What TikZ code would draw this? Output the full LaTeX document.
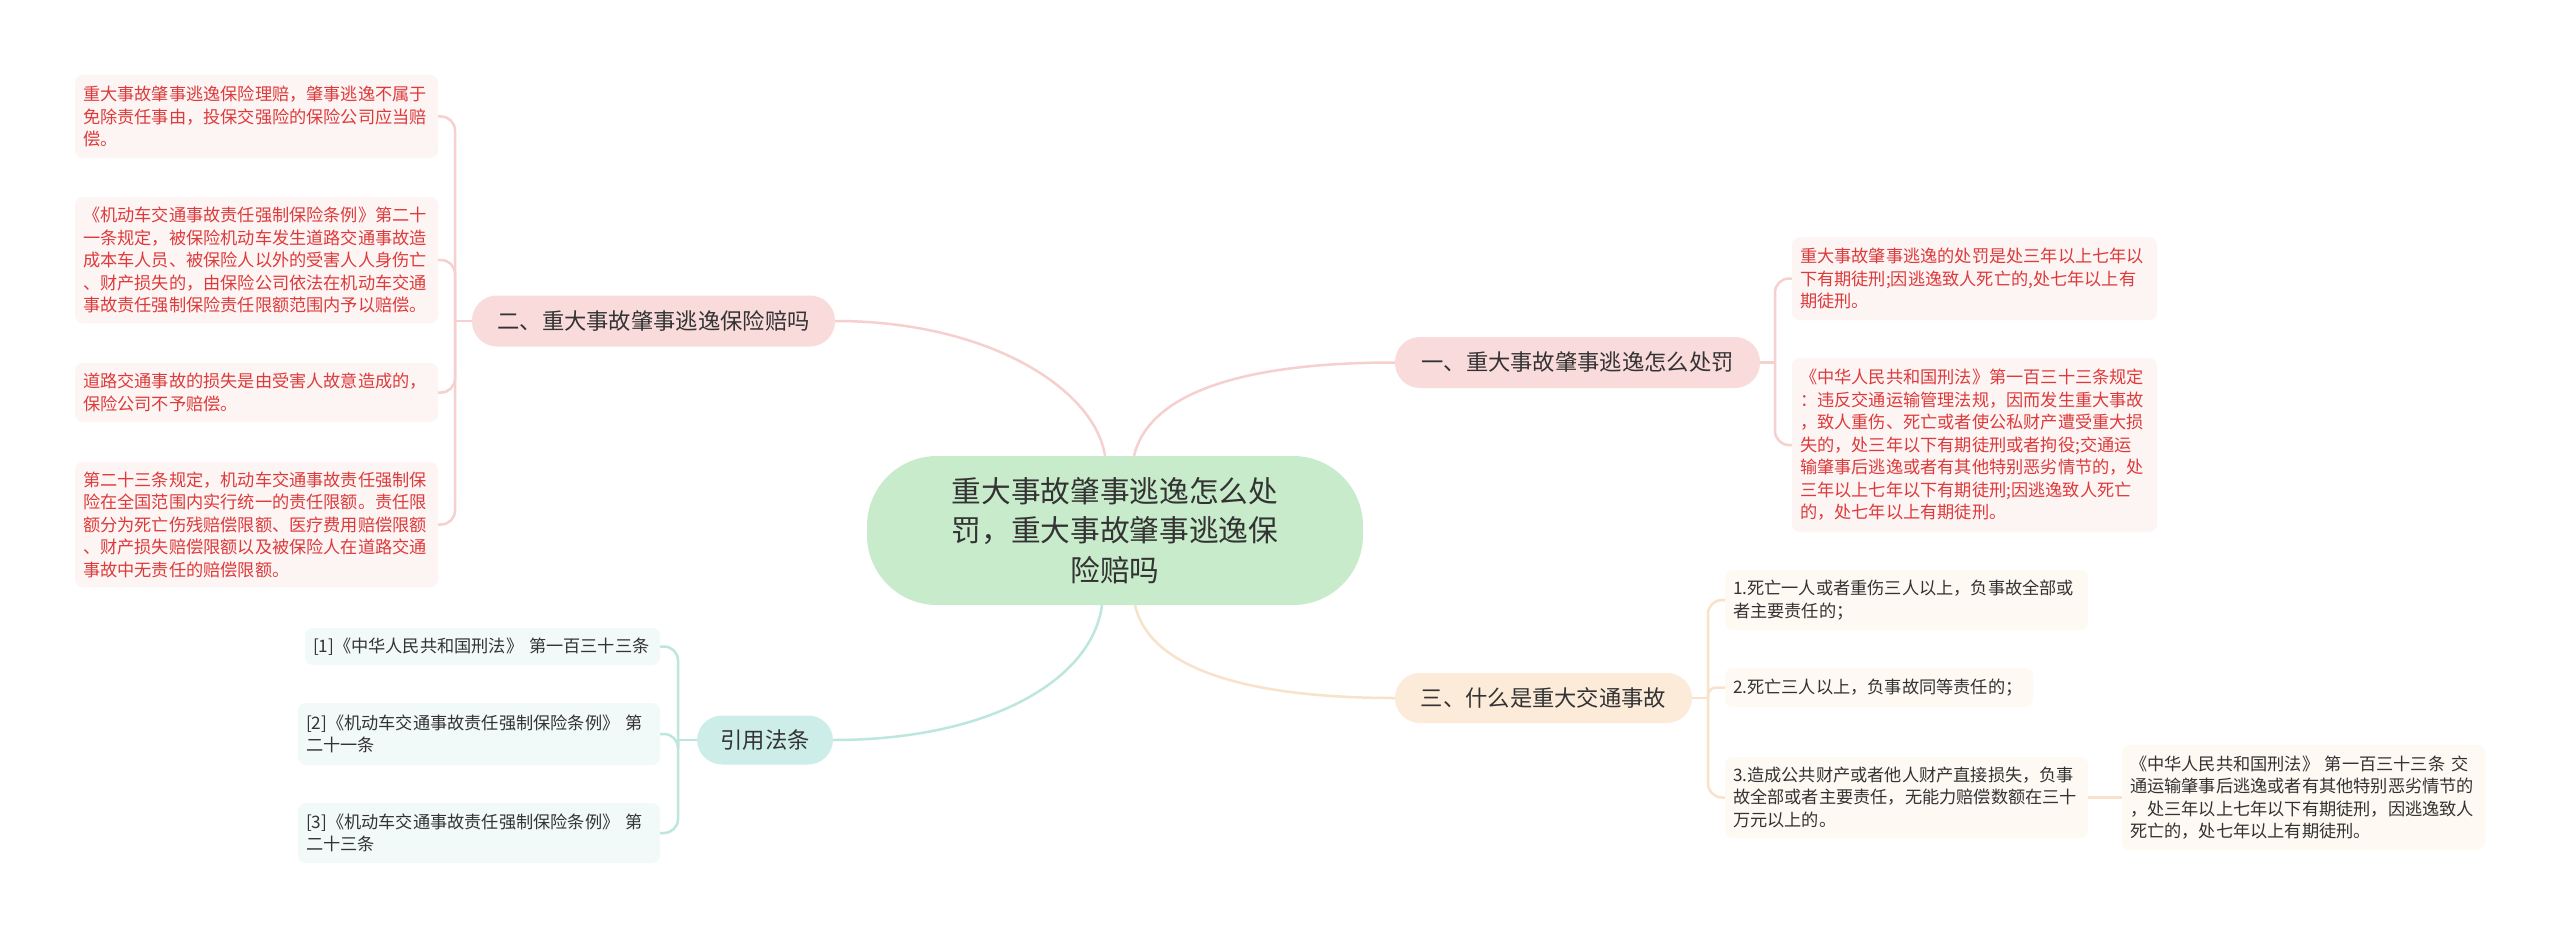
\documentclass[tikz,border=0pt]{standalone}
\usepackage{fontspec}
\setmainfont{Noto Sans CJK SC}
\usetikzlibrary{backgrounds,calc}
\definecolor{cgreen}{HTML}{C8EBCB}
\definecolor{npink}{HTML}{FADBDB}
\definecolor{npeach}{HTML}{FDEBDA}
\definecolor{nmint}{HTML}{CDEEE8}
\definecolor{lpink}{HTML}{FDF4F4}
\definecolor{lpeach}{HTML}{FEF9F3}
\definecolor{lmint}{HTML}{F2FAF9}
\definecolor{redtxt}{HTML}{DD3B3B}
\definecolor{darktxt}{HTML}{333333}
\definecolor{pinkln}{HTML}{F6CFCF}
\definecolor{peachln}{HTML}{F9E2CA}
\definecolor{mintln}{HTML}{BDE6DE}
\tikzset{
  leaf/.style={rounded corners=8pt, inner xsep=8pt, inner ysep=0pt, align=left,
    font=\fontsize{17.2}{22.5}\selectfont, anchor=center},
  redleaf/.style={leaf, fill=lpink, text=redtxt},
  peachleaf/.style={leaf, fill=lpeach, text=darktxt},
  mintleaf/.style={leaf, fill=lmint, text=darktxt},
  branch/.style={rounded corners=25pt, minimum height=51pt, inner sep=0pt,
    font=\fontsize{22.3}{26}\selectfont, text=darktxt, anchor=center},
  pinkline/.style={draw=pinkln, line width=2.5pt},
  peachline/.style={draw=peachln, line width=2.5pt},
  mintline/.style={draw=mintln, line width=2.5pt},
}
\begin{document}
\begin{tikzpicture}[x=1pt,y=-1pt]
\useasboundingbox (0,0) rectangle (2560,939);

% central
\node[fill=cgreen, rounded corners=70pt, minimum width=496pt, minimum height=149pt,
  inner sep=0pt, text width=340pt, align=center, text=darktxt,
  font=\fontsize{29.7}{39.5}\selectfont] (c) at (1115,530.5)
  {重大事故肇事逃逸怎么处\\罚，重大事故肇事逃逸保\\险赔吗};

% branches
\node[branch, fill=npink, minimum width=365pt] (b1) at (1577.5,362.5) {一、重大事故肇事逃逸怎么处罚};
\node[branch, fill=npink, minimum width=363pt] (b2) at (653.5,321) {二、重大事故肇事逃逸保险赔吗};
\node[branch, fill=npeach, minimum width=297pt, minimum height=50pt] (b3) at (1543.5,698) {三、什么是重大交通事故};
\node[branch, fill=nmint, minimum width=136pt, minimum height=49pt] (b4) at (765,740) {引用法条};

% branch 1 leaves
\node[redleaf, text width=349pt, minimum height=83pt] (l1a) at (1974.5,278.5)
  {重大事故肇事逃逸的处罚是处三年以上七年以\\下有期徒刑;因逃逸致人死亡的,处七年以上有\\期徒刑。};
\node[redleaf, text width=349pt, minimum height=174pt] (l1b) at (1974.5,445)
  {《中华人民共和国刑法》第一百三十三条规定\\：违反交通运输管理法规，因而发生重大事故\\，致人重伤、死亡或者使公私财产遭受重大损\\失的，处三年以下有期徒刑或者拘役;交通运\\输肇事后逃逸或者有其他特别恶劣情节的，处\\三年以上七年以下有期徒刑;因逃逸致人死亡\\的，处七年以上有期徒刑。};

% branch 2 leaves
\node[redleaf, text width=347pt, minimum height=83pt] (l2a) at (256.5,116.5)
  {重大事故肇事逃逸保险理赔，肇事逃逸不属于\\免除责任事由，投保交强险的保险公司应当赔\\偿。};
\node[redleaf, text width=347pt, minimum height=126pt] (l2b) at (256.5,260)
  {《机动车交通事故责任强制保险条例》第二十\\一条规定，被保险机动车发生道路交通事故造\\成本车人员、被保险人以外的受害人人身伤亡\\、财产损失的，由保险公司依法在机动车交通\\事故责任强制保险责任限额范围内予以赔偿。};
\node[redleaf, text width=347pt, minimum height=59pt] (l2c) at (256.5,392.5)
  {道路交通事故的损失是由受害人故意造成的，\\保险公司不予赔偿。};
\node[redleaf, text width=347pt, minimum height=125pt] (l2d) at (256.5,524.5)
  {第二十三条规定，机动车交通事故责任强制保\\险在全国范围内实行统一的责任限额。责任限\\额分为死亡伤残赔偿限额、医疗费用赔偿限额\\、财产损失赔偿限额以及被保险人在道路交通\\事故中无责任的赔偿限额。};

% branch 3 leaves
\node[peachleaf, text width=347pt, minimum height=60pt] (l3a) at (1906.5,600)
  {1.死亡一人或者重伤三人以上，负事故全部或\\者主要责任的；};
\node[peachleaf, text width=292pt, minimum height=39pt] (l3b) at (1879,687.5)
  {2.死亡三人以上，负事故同等责任的；};
\node[peachleaf, text width=347pt, minimum height=81pt] (l3c) at (1906.5,797.5)
  {3.造成公共财产或者他人财产直接损失，负事\\故全部或者主要责任，无能力赔偿数额在三十\\万元以上的。};
\node[peachleaf, text width=347pt, minimum height=105pt] (l3d) at (2303.5,797.5)
  {《中华人民共和国刑法》~第一百三十三条~交\\通运输肇事后逃逸或者有其他特别恶劣情节的\\，处三年以上七年以下有期徒刑，因逃逸致人\\死亡的，处七年以上有期徒刑。};

% branch 4 leaves
\node[mintleaf, text width=339pt, minimum height=37pt] (l4a) at (482.5,646.5)
  {[1]《中华人民共和国刑法》~第一百三十三条};
\node[mintleaf, text width=346pt, minimum height=62pt] (l4b) at (479,734)
  {[2]《机动车交通事故责任强制保险条例》~第\\二十一条};
\node[mintleaf, text width=346pt, minimum height=60pt] (l4c) at (479,833)
  {[3]《机动车交通事故责任强制保险条例》~第\\二十三条};

% junctions
\coordinate (j1) at (1775,362.5);
\coordinate (j2) at (455,321);
\coordinate (j3) at (1708,698);
\coordinate (j4) at (678,740);

\begin{scope}[on background layer]
\fill[white] (0,0) rectangle (2560,939);
% main curves
\draw[pinkline] ([xshift=-10pt]c.north) .. controls (1095,390) and (990,321) .. (b2.east);
\draw[pinkline] ([xshift=19pt]c.north) .. controls (1150,390) and (1250,362.5) .. (b1.west);
\draw[peachline] ([xshift=20pt]c.south) .. controls (1150,670) and (1250,698) .. (b3.west);
\draw[mintline] ([xshift=-13pt]c.south) .. controls (1092,680) and (990,740) .. (b4.east);
% branch 1
\draw[pinkline] (b1.east) -- (j1);
\draw[pinkline, rounded corners=14pt] (j1) |- (l1a.west);
\draw[pinkline, rounded corners=14pt] (j1) |- (l1b.west);
% branch 2
\draw[pinkline] (b2.west) -- (j2);
\draw[pinkline, rounded corners=14pt] (j2) |- (l2a.east);
\draw[pinkline, rounded corners=14pt] (j2) |- (l2b.east);
\draw[pinkline, rounded corners=14pt] (j2) |- (l2c.east);
\draw[pinkline, rounded corners=14pt] (j2) |- (l2d.east);
% branch 3
\draw[peachline] (b3.east) -- (j3);
\draw[peachline, rounded corners=14pt] (j3) |- (l3a.west);
\draw[peachline, rounded corners=8pt] (j3) |- (l3b.west);
\draw[peachline, rounded corners=14pt] (j3) |- (l3c.west);
\draw[peachline] (l3c.east) -- (l3d.west);
% branch 4
\draw[mintline] (b4.west) -- (j4);
\draw[mintline, rounded corners=14pt] (j4) |- (l4a.east);
\draw[mintline, rounded corners=14pt] (j4) |- (l4b.east);
\draw[mintline, rounded corners=14pt] (j4) |- (l4c.east);
\end{scope}
\end{tikzpicture}
\end{document}
